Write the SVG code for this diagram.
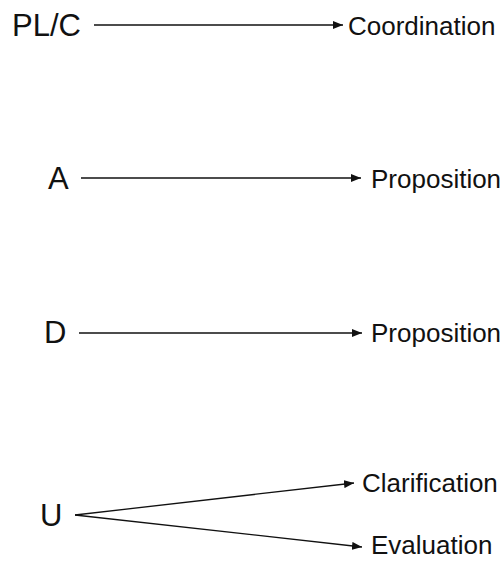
<svg xmlns="http://www.w3.org/2000/svg" width="504" height="561" viewBox="0 0 504 561">
<style>
.src{font-family:"Liberation Sans",Arial,sans-serif;font-size:31px;fill:#111}
.dst{font-family:"Liberation Sans",Arial,sans-serif;font-size:26px;fill:#111}
.c{stroke:#111;stroke-width:1.3;fill:none;marker-end:url(#ah)}
</style>
<defs>
<marker id="ah" viewBox="0 0 10 8" refX="10" refY="4" markerWidth="10" markerHeight="8" markerUnits="userSpaceOnUse" orient="auto">
<path d="M0,0 L10,4 L0,8 Z" fill="#111"/>
</marker>
</defs>
<rect width="504" height="561" fill="#fff"/>
<g id="connectors">
<line class="c" x1="94" y1="25" x2="343" y2="25"/>
<line class="c" x1="81" y1="178" x2="361" y2="178"/>
<line class="c" x1="79" y1="333" x2="362" y2="333"/>
<line class="c" x1="75" y1="515" x2="354" y2="483"/>
<line class="c" x1="75" y1="515" x2="362" y2="547"/>
</g>
<g id="PLC"><text class="src" x="12" y="36">PL/C</text></g>
<g id="Coordination"><text class="dst" x="348" y="35">Coordination</text></g>
<g id="A"><text class="src" x="48" y="189">A</text></g>
<g id="Proposition1"><text class="dst" x="371" y="188">Proposition</text></g>
<g id="D"><text class="src" x="44" y="343">D</text></g>
<g id="Proposition2"><text class="dst" x="371" y="342">Proposition</text></g>
<g id="U"><text class="src" x="40" y="526">U</text></g>
<g id="Clarification"><text class="dst" x="362" y="492">Clarification</text></g>
<g id="Evaluation"><text class="dst" x="371" y="554">Evaluation</text></g>
</svg>
